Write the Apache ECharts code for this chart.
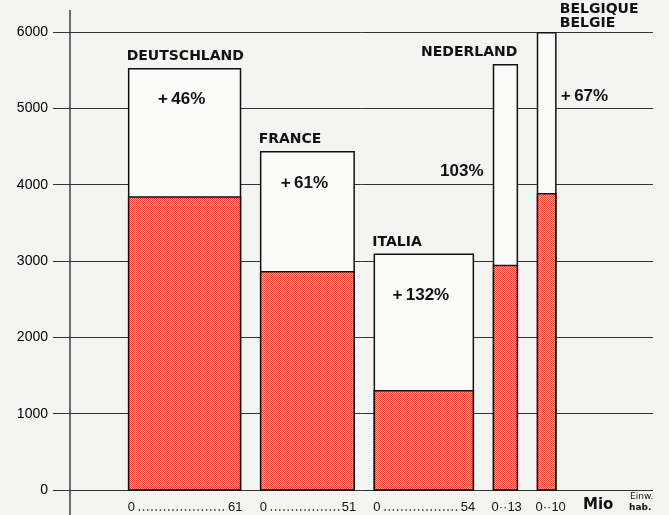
<!DOCTYPE html>
<html>
<head>
<meta charset="utf-8">
<script src="https://cdn.jsdelivr.net/npm/echarts@6/dist/echarts.min.js"></script>
<style>
html, body { margin: 0; background: #f4f4f2; }
#main { width: 669px; height: 515px; }
</style>
</head>
<body>
<div id="main"></div>
<script>
// values
var countries = ['DEUTSCHLAND', 'FRANCE', 'ITALIA', 'NEDERLAND', 'BELGIQUE\nBELGIE'];
var population = [61, 51, 54, 13, 10];          // Mio Einw. -> bar width
var totalNow = [5520, 4430, 3090, 5570, 5990];   // whole bar
var totalBefore = [3840, 2860, 1300, 2940, 3880]; // red part
var growth = ['+46%', '+61%', '+132%', '103%', '+67%'];
var yTicks = [0, 1000, 2000, 3000, 4000, 5000, 6000];

// lay bars side by side, width = population
var barData = [];
var cursor = 32;
for (var i = 0; i < countries.length; i++) {
    barData.push([cursor, cursor + population[i], totalNow[i], totalBefore[i], i]);
    cursor += population[i] + 11;
}

// checkered red raster
var pat = document.createElement('canvas');
pat.width = 2; pat.height = 2;
var pctx = pat.getContext('2d');
pctx.fillStyle = '#f9a382';
pctx.fillRect(0, 0, 2, 2);
pctx.fillStyle = '#ee4b36';
pctx.fillRect(0, 0, 1, 1);
pctx.fillRect(1, 1, 1, 1);

var nameFont = 'bold 14px "DejaVu Sans"';
var pctFont = 'bold 17px "Liberation Sans"';
var scaleFont = '13px "Liberation Sans"';

function renderBar(params, api) {
    var i = api.value(4);
    var pL = api.coord([api.value(0), 0]);
    var pR = api.coord([api.value(1), api.value(2)]);
    var pB = api.coord([api.value(0), api.value(3)]);
    var x0 = pL[0], x1 = pR[0], y0 = pL[1], yTop = pR[1], yBase = pB[1];
    var w = x1 - x0;
    var kids = [
        { type: 'rect', shape: { x: x0, y: yTop, width: w, height: y0 - yTop },
          style: { fill: '#fbfbfa', stroke: '#111', lineWidth: 1.5 } },
        { type: 'rect', shape: { x: x0, y: yBase, width: w, height: y0 - yBase },
          style: { fill: { image: pat, repeat: 'repeat' }, stroke: '#111', lineWidth: 1.5 } }
    ];
    // country name
    var nx = x0 - 2, nAlign = 'left', nGap = 5;
    if (i === 3) { nx = x1; nAlign = 'right'; }
    if (i === 4) { nx = x1 + 4; nGap = 2; }
    kids.push({ type: 'text', style: { x: nx, y: yTop - nGap, text: countries[i], font: nameFont,
        fill: '#111', align: nAlign, verticalAlign: 'bottom', lineHeight: 14 } });
    // growth label
    var gx = (x0 + x1) / 2 - 3, gy = yTop + 31, gAlign = 'center';
    if (i === 2) gy = yTop + 41;
    if (i === 3) { gx = x0 - 10; gy = (yTop + yBase) / 2 + 6; gAlign = 'right'; }
    if (i === 4) { gx = x1 + 5; gy = yTop + 64; gAlign = 'left'; }
    kids.push({ type: 'text', style: { x: gx, y: gy, text: growth[i].replace('+', '+\u2009'), font: pctFont,
        fill: '#111', align: gAlign, verticalAlign: 'middle' } });
    // population scale under the bar
    var ly = y0 + 17;
    if (w < 40) {
        kids.push({ type: 'text', style: { x: x0 - 2, y: ly, text: '0\u00b7\u00b7' + population[i], font: scaleFont,
            fill: '#111', align: 'left', verticalAlign: 'middle' } });
    } else {
        kids.push({ type: 'text', style: { x: x0 - 1, y: ly, text: '0', font: scaleFont,
            fill: '#111', align: 'left', verticalAlign: 'middle' } });
        kids.push({ type: 'text', style: { x: x1 + 2, y: ly, text: String(population[i]), font: scaleFont,
            fill: '#111', align: 'right', verticalAlign: 'middle' } });
        var numW = String(population[i]).length * 7.2;
        kids.push({ type: 'line', shape: { x1: x0 + 10, y1: ly + 3, x2: x1 + 1 - numW, y2: ly + 3 },
            style: { stroke: '#222', lineWidth: 1.4, lineDash: [1.4, 2.8] } });
    }
    return { type: 'group', children: kids };
}

var myChart = echarts.init(document.getElementById('main'));
var option = {
    backgroundColor: '#f4f4f2',
    animation: false,
    grid: { left: 70, right: 16, top: 32, bottom: 25 },
    xAxis: {
        type: 'value', min: 0, max: 318,
        axisLine: { show: false }, axisTick: { show: false },
        axisLabel: { show: false }, splitLine: { show: false }
    },
    yAxis: {
        type: 'value', min: yTicks[0], max: yTicks[yTicks.length - 1], interval: 1000,
        axisLine: { show: false },
        axisTick: { show: true, inside: false, length: 17, lineStyle: { color: '#333', width: 1 } },
        axisLabel: { margin: 22, color: '#000', fontSize: 14, fontFamily: 'Liberation Sans',
            formatter: function (v) { return String(v); } },
        splitLine: { show: true, lineStyle: { color: '#333', width: 1 } }
    },
    graphic: [
        { type: 'line', shape: { x1: 70, y1: 10, x2: 70, y2: 515 }, style: { stroke: '#222', lineWidth: 1.3 } },
        { type: 'text', left: 583, top: 498, style: { text: 'Mio', font: 'bold 15px "DejaVu Sans"', fill: '#111' } },
        { type: 'text', left: 630, top: 492, style: { text: 'Einw.', font: '9px "DejaVu Sans"', fill: '#111' } },
        { type: 'text', left: 629, top: 503, style: { text: 'hab.', font: 'bold 9px "DejaVu Sans"', fill: '#111' } }
    ],
    series: [{
        type: 'custom',
        renderItem: renderBar,
        encode: { x: [0, 1], y: [2, 3] },
        data: barData,
        z: 5
    }]
};
myChart.setOption(option);
</script>
</body>
</html>
